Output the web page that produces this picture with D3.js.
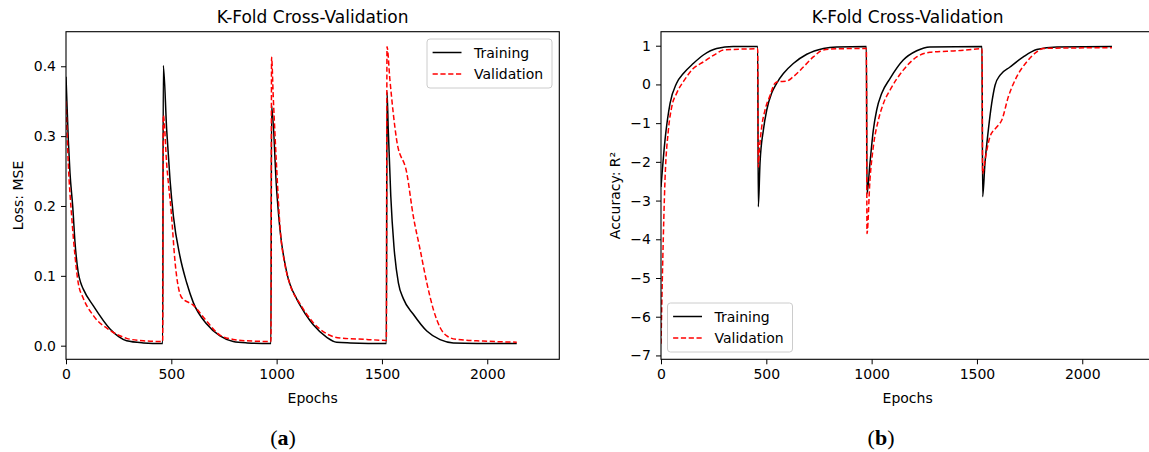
<!DOCTYPE html>
<html>
<head>
<meta charset="utf-8">
<script src="https://cdn.jsdelivr.net/npm/d3@7"></script>
<style>
  body { margin: 0; background: #fff; }
  text { font-family: "DejaVu Sans", sans-serif; fill: #000; }
</style>
</head>
<body>
<div id="chart"></div>
<script>
// epochs / values, 4 folds back to back
const lossTrainX = [0, 11, 19, 32, 43, 58, 70, 82, 130, 209, 250, 288, 367, 459,
  462, 478, 494, 510, 541, 573, 604, 668, 731, 794, 860, 973,
  976, 1000, 1016, 1048, 1095, 1111, 1158, 1174, 1238, 1285, 1350, 1521,
  1524, 1530, 1542, 1557, 1578, 1602, 1649, 1713, 1776, 1839, 2140]
const lossTrainY = [0.385, 0.294, 0.247, 0.199, 0.147, 0.105, 0.09, 0.081, 0.057, 0.024, 0.013, 0.007, 0.004, 0.003,
  0.401, 0.309, 0.237, 0.185, 0.128, 0.090, 0.062, 0.031, 0.014, 0.006, 0.004, 0.003,
  0.344, 0.223, 0.166, 0.105, 0.067, 0.058, 0.036, 0.030, 0.012, 0.005, 0.004, 0.003,
  0.363, 0.309, 0.214, 0.142, 0.09, 0.067, 0.045, 0.021, 0.0086, 0.004, 0.003]

const lossValX = [0, 11, 27, 43, 58, 82, 130, 209, 250, 288, 367, 459,
  462, 478, 500, 518, 549, 604, 668, 731, 794, 860, 973,
  976, 984, 1000, 1016, 1040, 1064, 1111, 1174, 1238, 1301, 1428, 1521,
  1524, 1538, 1570, 1618, 1649, 1681, 1713, 1744, 1776, 1808, 1855, 1980, 2140]
const lossValY = [0.35, 0.26, 0.185, 0.128, 0.09, 0.068, 0.043, 0.022, 0.015, 0.0105, 0.007, 0.006,
  0.33, 0.26, 0.19, 0.119, 0.069, 0.058, 0.035, 0.015, 0.009, 0.007, 0.006,
  0.413, 0.356, 0.255, 0.17, 0.115, 0.087, 0.06, 0.033, 0.017, 0.011, 0.009, 0.0075,
  0.428, 0.38, 0.294, 0.247, 0.185, 0.138, 0.09, 0.052, 0.026, 0.014, 0.009, 0.0066, 0.005]

const r2TrainX = [0, 19, 43, 74, 106, 153, 201, 264, 343, 459,
  462, 470, 486, 502, 525, 549, 581, 628, 692, 771, 834, 975,
  978, 992, 1008, 1024, 1048, 1087, 1150, 1214, 1277, 1524,
  1527, 1538, 1554, 1570, 1586, 1610, 1657, 1720, 1784, 1879, 2141]
const r2TrainY = [-2.65, -1.44, -0.49, 0.03, 0.28, 0.54, 0.76, 0.93, 0.98, 0.98,
  -3.16, -2.04, -1.18, -0.66, -0.23, 0.03, 0.28, 0.54, 0.78, 0.93, 0.97, 0.98,
  -2.82, -2.04, -1.18, -0.66, -0.23, 0.15, 0.63, 0.87, 0.97, 0.98,
  -2.9, -2.04, -1.18, -0.49, -0.02, 0.24, 0.45, 0.71, 0.90, 0.97, 0.98]

const r2ValX = [0, 8, 19, 35, 51, 74, 106, 153, 201, 264, 296, 459,
  462, 467, 478, 494, 518, 541, 557, 597, 628, 676, 723, 771, 834, 975,
  978, 992, 1008, 1032, 1056, 1087, 1150, 1214, 1277, 1404, 1524,
  1527, 1538, 1562, 1594, 1618, 1649, 1689, 1736, 1784, 1815, 2141]
const r2ValY = [-6.7, -4.63, -2.47, -1.18, -0.58, -0.23, 0.07, 0.41, 0.58, 0.80, 0.89, 0.92,
  -2.13, -1.7, -1.1, -0.66, -0.28, 0.03, 0.07, 0.085, 0.2, 0.45, 0.71, 0.89, 0.92, 0.93,
  -3.85, -2.47, -1.61, -0.92, -0.49, -0.15, 0.37, 0.71, 0.83, 0.87, 0.92,
  -2.3, -1.96, -1.35, -1.1, -0.92, -0.32, 0.2, 0.58, 0.84, 0.93, 0.95]

const xTicks = [0, 500, 1000, 1500, 2000]
const lossTicks = [0.0, 0.1, 0.2, 0.3, 0.4]
const r2Ticks = [1, 0, -1, -2, -3, -4, -5, -6, -7]
const seriesNames = ["Training", "Validation"]

const width = 1149, height = 452
const plotTop = 31.7, plotBottom = 359.3, plotW = 493.3

const svg = d3.select("#chart").append("svg")
    .attr("width", width)
    .attr("height", height)

function zip(xs, ys){ return xs.map((x, i) => [x, ys[i]]) }

function drawPanel(o){
    const x = d3.scaleLinear().domain([0, 2342]).range([o.left, o.left + plotW])
    const y = d3.scaleLinear().domain(o.ydom).range([plotBottom, plotTop])
    const g = svg.append("g")

    const clipId = "clip" + o.tag
    g.append("clipPath").attr("id", clipId)
      .append("rect").attr("x", o.left).attr("y", plotTop)
      .attr("width", plotW).attr("height", plotBottom - plotTop)

    const line = d3.line().x(d => x(d[0])).y(d => y(d[1])).curve(d3.curveMonotoneX)

    g.append("path").datum(zip(o.trainX, o.trainY))
      .attr("clip-path", `url(#${clipId})`)
      .attr("d", line).attr("fill", "none")
      .attr("stroke", "#000").attr("stroke-width", 1.5)
    g.append("path").datum(zip(o.valX, o.valY))
      .attr("clip-path", `url(#${clipId})`)
      .attr("d", line).attr("fill", "none")
      .attr("stroke", "#ff0000").attr("stroke-width", 1.5)
      .attr("stroke-dasharray", "5.2,2.6")

    // axes
    const xa = g.append("g").attr("transform", `translate(0,${plotBottom})`)
      .call(d3.axisBottom(x).tickValues(xTicks).tickSize(5).tickPadding(5).tickFormat(d3.format("d")))
    const ya = g.append("g").attr("transform", `translate(${o.left},0)`)
      .call(d3.axisLeft(y).tickValues(o.yticks).tickSize(5).tickPadding(5).tickFormat(o.yfmt))
    ;[xa, ya].forEach(a => {
        a.select(".domain").remove()
        a.selectAll("line").attr("stroke", "#000").attr("stroke-width", 1)
        a.selectAll("text").style("font-family", "DejaVu Sans").style("font-size", "14px").attr("fill", "#000")
    })

    // frame
    g.append("rect").attr("x", o.left).attr("y", plotTop)
      .attr("width", plotW).attr("height", plotBottom - plotTop)
      .attr("fill", "none").attr("stroke", "#000").attr("stroke-width", 1.1)

    const cx = o.left + plotW / 2
    g.append("text").attr("x", cx).attr("y", 23).attr("text-anchor", "middle")
      .style("font-size", "17px").text("K-Fold Cross-Validation")
    g.append("text").attr("x", cx).attr("y", 403).attr("text-anchor", "middle")
      .style("font-size", "14px").text("Epochs")
    g.append("text").attr("transform", `translate(${o.ylabX},${(plotTop + plotBottom) / 2}) rotate(-90)`)
      .attr("text-anchor", "middle").style("font-size", "14px").text(o.ylabel)

    // legend
    const lg = g.append("g").attr("transform", `translate(${o.legX},${o.legY})`)
    lg.append("rect").attr("width", 125).attr("height", 49).attr("rx", 3)
      .attr("fill", "#fff").attr("fill-opacity", 0.8)
      .attr("stroke", "#cccccc").attr("stroke-width", 1)
    seriesNames.forEach((name, i) => {
        const yy = 13.5 + i * 21.5
        lg.append("line").attr("x1", 5.6).attr("x2", 34.5).attr("y1", yy).attr("y2", yy)
          .attr("stroke", i ? "#ff0000" : "#000").attr("stroke-width", 1.5)
          .attr("stroke-dasharray", i ? "5.2,2.6" : null)
        lg.append("text").attr("x", 47).attr("y", yy + 5).style("font-size", "14px").text(name)
    })

    // sub-figure label
    const lab = svg.append("text").attr("x", o.labX).attr("y", 445).attr("text-anchor", "middle")
      .style("font-family", "Liberation Serif, serif").style("font-size", "22px")
    lab.append("tspan").text("(")
    lab.append("tspan").style("font-weight", "bold").text(o.tag)
    lab.append("tspan").text(")")
}

drawPanel({
    tag: "a", left: 66, ydom: [-0.0195, 0.4495],
    trainX: lossTrainX, trainY: lossTrainY, valX: lossValX, valY: lossValY,
    yticks: lossTicks, yfmt: d3.format(".1f"), ylabel: "Loss: MSE", ylabX: 23,
    legX: 427, legY: 39, labX: 283
})
drawPanel({
    tag: "b", left: 661, ydom: [-7.1, 1.362],
    trainX: r2TrainX, trainY: r2TrainY, valX: r2ValX, valY: r2ValY,
    yticks: r2Ticks, yfmt: d3.format("d"), ylabel: "Accuracy: R²", ylabX: 620,
    legX: 667.5, legY: 303, labX: 881
})
</script>
</body>
</html>
